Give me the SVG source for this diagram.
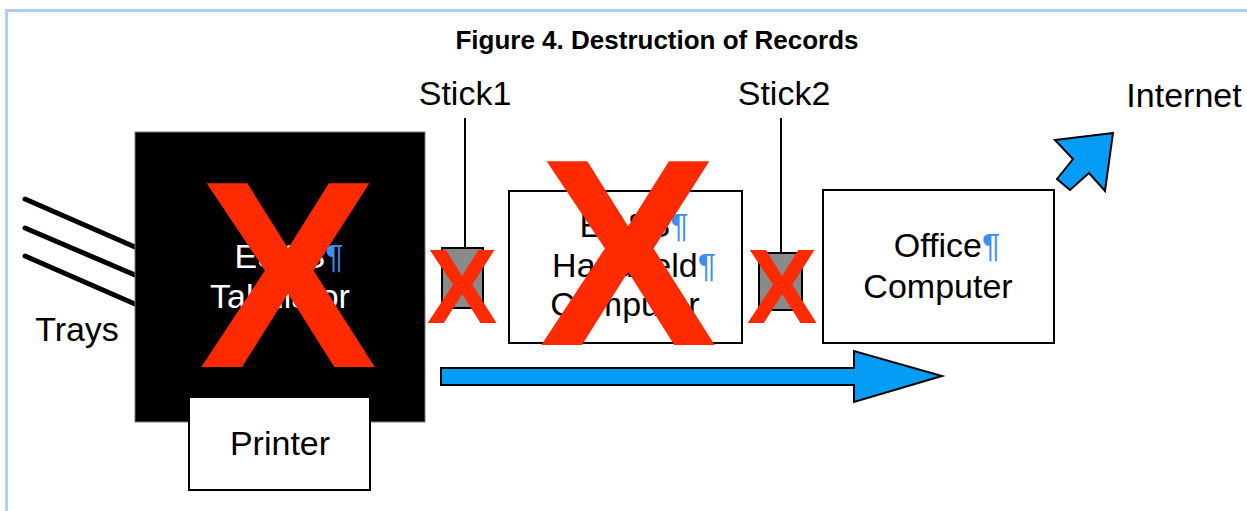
<svg xmlns="http://www.w3.org/2000/svg" width="1247" height="511" viewBox="0 0 1247 511">
<style>
.t{font-family:"Liberation Sans",Arial,sans-serif;font-size:34px;fill:#000;}
.w{fill:#fff;}
.p{fill:#3b8ff0;}
.box{fill:#fff;stroke:#000;stroke-width:2;}
.stick{fill:#8a8a8a;stroke:#000;stroke-width:2;}
.x{font-family:"Liberation Sans",Arial,sans-serif;font-weight:bold;fill:#ff2a00;text-anchor:middle;}
.blue{fill:#049cf5;stroke:#000;stroke-width:2;stroke-linejoin:miter;}
.tray{stroke:#000;stroke-width:5;stroke-linecap:round;}
</style>
<rect x="0" y="0" width="1247" height="511" fill="#fff"/>
<g id="frame" fill="#aecff8">
<rect x="5" y="9" width="1242" height="3"/>
<rect x="5" y="9" width="3" height="502"/>
</g>
<text id="title" x="657" y="49" class="t" style="font-size:26px;font-weight:bold" text-anchor="middle">Figure 4. Destruction of Records</text>

<g id="connectors">
<line class="tray" x1="25" y1="199" x2="135" y2="247"/>
<line class="tray" x1="25" y1="228" x2="135" y2="275"/>
<line class="tray" x1="25" y1="256" x2="135" y2="304"/>
<line x1="465" y1="118" x2="465" y2="248" stroke="#000" stroke-width="2"/>
<line x1="781" y1="118" x2="781" y2="253" stroke="#000" stroke-width="2"/>
<polygon class="blue" points="441,368 854,368 854,351 942,376 854,402 854,385 441,385"/>
<polygon class="blue" points="1113,133 1055,140 1073,159 1057,179 1070,190 1089,173 1105,191"/>
</g>

<g id="trays">
<text class="t" x="77" y="341" text-anchor="middle">Trays</text>
</g>

<g id="tabulator">
<rect x="135" y="132" width="290" height="290" fill="#000" stroke="#777" stroke-width="1"/>
<text class="t w" x="289" y="268" text-anchor="middle">ES&amp;S<tspan class="p">¶</tspan></text>
<text class="t w" x="280" y="308" text-anchor="middle">Tabulator</text>
</g>

<g id="printer">
<rect class="box" x="189" y="397" width="181" height="93"/>
<text class="t" x="280" y="455" text-anchor="middle">Printer</text>
</g>

<g id="stick1">
<text class="t" x="465" y="105" text-anchor="middle">Stick1</text>
<rect class="stick" x="442" y="248" width="41" height="60"/>
</g>

<g id="handheld">
<rect class="box" x="509" y="191" width="233" height="152"/>
<text class="t" x="634" y="237" text-anchor="middle">ES&amp;S<tspan class="p">¶</tspan></text>
<text class="t" x="634" y="277" text-anchor="middle">Handheld<tspan class="p">¶</tspan></text>
<text class="t" x="625" y="316" text-anchor="middle">Computer</text>
</g>

<g id="stick2">
<text class="t" x="784" y="105" text-anchor="middle">Stick2</text>
<rect class="stick" x="759" y="253" width="43" height="57"/>
</g>

<g id="office">
<rect class="box" x="823" y="190" width="231" height="153"/>
<text class="t" x="947" y="257" text-anchor="middle">Office<tspan class="p">¶</tspan></text>
<text class="t" x="938" y="298" text-anchor="middle">Computer</text>
</g>

<g id="internet">
<text class="t" x="1184" y="107" text-anchor="middle">Internet</text>
</g>

<g id="crosses">
<text class="x" x="288" y="367" style="font-size:267px">X</text>
<text class="x" x="628" y="345" style="font-size:267px">X</text>
<text class="x" x="462" y="323" style="font-size:106px">X</text>
<text class="x" x="782" y="323" style="font-size:106px">X</text>
</g>
</svg>
